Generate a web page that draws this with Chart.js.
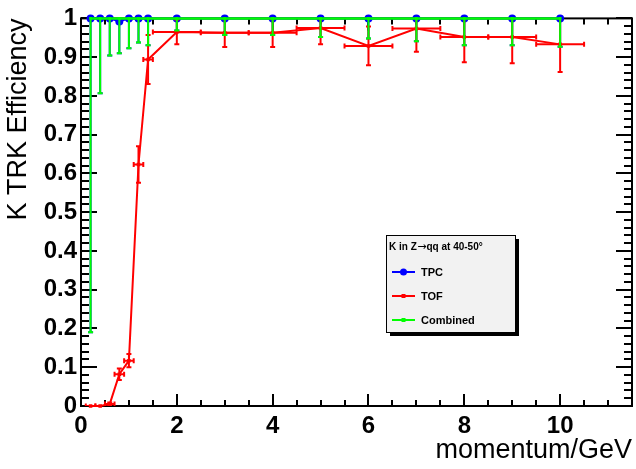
<!DOCTYPE html>
<html><head><meta charset="utf-8">
<script src="https://cdn.jsdelivr.net/npm/chart.js@4"></script>
<style>html,body{margin:0;padding:0;background:#fff;}#wrap{width:636px;height:469px;position:relative;}</style>
</head><body><div id="wrap"><canvas id="c" width="636" height="469"></canvas></div>
<script>
// ---- data ----
const momentum   = [0.2, 0.4, 0.6, 0.8, 1.0, 1.2, 1.4, 2, 3, 4, 5, 6, 7, 8, 9, 10];
const tpcEff     = [1, 1, 1, 0.992, 1, 1, 1, 1, 1, 1, 1, 1, 1, 1, 1, 1];
const tpcErrLow  = [0.81, 0.193, 0.096, 0.082, 0.077, 0.062, 0.069, 0.031, 0.043, 0.043, 0.048, 0.052, 0.059, 0.069, 0.069, 0.073];
const tofEff     = [0, 0, 0.005, 0.082, 0.117, 0.623, 0.894, 0.965, 0.963, 0.963, 0.975, 0.929, 0.974, 0.952, 0.952, 0.933];
const tofErrY    = [0, 0, 0.004, 0.015, 0.017, 0.047, 0.063, 0.032, 0.037, 0.037, 0.042, 0.05, 0.06, 0.065, 0.068, 0.071];
const tofErrX    = [0.1, 0.1, 0.1, 0.1, 0.1, 0.1, 0.1, 0.5, 0.5, 0.5, 0.5, 0.5, 0.5, 0.5, 0.5, 0.5];
const combEff    = [1, 1, 1, 1, 1, 1, 1, 1, 1, 1, 1, 1, 1, 1, 1, 1];
const combErrLow = [0.81, 0.193, 0.096, 0.09, 0.077, 0.062, 0.069, 0.031, 0.043, 0.043, 0.048, 0.052, 0.059, 0.069, 0.069, 0.073];
const xTickLabels = ['0', '2', '4', '6', '8', '10'];
const yTickLabels = ['0', '0.1', '0.2', '0.3', '0.4', '0.5', '0.6', '0.7', '0.8', '0.9', '1'];
const legendTitleParts = ['K in Z', '\u2192', 'qq at 40-50\u00B0'];

const BLUE = '#0000ff', RED = '#ff0000', GREEN = '#00ff00';
const FONT = 'Liberation Sans, Arial, Helvetica, sans-serif';

const errorSpecs = [
  { color: BLUE,  width: 2, low: tpcErrLow,  high: null, ex: null },
  { color: RED,   width: 2, low: tofErrY,    high: tofErrY, ex: tofErrX },
  { color: GREEN, width: 2, low: combErrLow, high: null, ex: null }
];
const yVals = [tpcEff, tofEff, combEff];

const errorBarPlugin = {
  id: 'errbars',
  beforeDatasetDraw(chart, args) {
    const spec = errorSpecs[args.index];
    if (!spec) return;
    const xs = chart.scales.x, ys = chart.scales.y, a = chart.chartArea;
    const ctx = chart.ctx;
    ctx.save();
    ctx.beginPath(); ctx.rect(a.left, a.top, a.right - a.left, a.bottom - a.top); ctx.clip();
    ctx.strokeStyle = spec.color; ctx.lineWidth = spec.width; ctx.lineCap = 'butt';
    const cap = 2.5;
    const yv = yVals[args.index];
    momentum.forEach((m, i) => {
      const px = xs.getPixelForValue(m), py = ys.getPixelForValue(yv[i]);
      ctx.beginPath();
      if (spec.low && spec.low[i] > 0) {
        const pl = ys.getPixelForValue(yv[i] - spec.low[i]);
        ctx.moveTo(px, py); ctx.lineTo(px, pl);
        ctx.moveTo(px - cap, pl); ctx.lineTo(px + cap, pl);
      }
      if (spec.high && spec.high[i] > 0) {
        const ph = ys.getPixelForValue(yv[i] + spec.high[i]);
        ctx.moveTo(px, py); ctx.lineTo(px, ph);
        ctx.moveTo(px - cap, ph); ctx.lineTo(px + cap, ph);
      }
      if (spec.ex && spec.ex[i] > 0) {
        const p1 = xs.getPixelForValue(m - spec.ex[i]), p2 = xs.getPixelForValue(m + spec.ex[i]);
        ctx.moveTo(p1, py); ctx.lineTo(p2, py);
        ctx.moveTo(p1, py - cap); ctx.lineTo(p1, py + cap);
        ctx.moveTo(p2, py - cap); ctx.lineTo(p2, py + cap);
      }
      ctx.stroke();
    });
    ctx.restore();
  }
};

const framePlugin = {
  id: 'rootframe',
  beforeDatasetsDraw(chart) {
    const xs = chart.scales.x, ys = chart.scales.y, a = chart.chartArea;
    const ctx = chart.ctx;
    ctx.save();
    ctx.strokeStyle = '#000'; ctx.lineWidth = 2;
    ctx.strokeRect(a.left, a.top, a.right - a.left, a.bottom - a.top);
    ctx.beginPath();
    for (let k = 0; k <= 23; k++) {
      const v = k * 0.5;
      const px = Math.round(xs.getPixelForValue(v));
      const len = (k % 4 === 0) ? 12 : 6;
      ctx.moveTo(px, a.bottom); ctx.lineTo(px, a.bottom - len);
      ctx.moveTo(px, a.top); ctx.lineTo(px, a.top + len);
    }
    for (let k = 0; k <= 50; k++) {
      const v = k * 0.02;
      const py = Math.round(ys.getPixelForValue(v));
      const len = (k % 5 === 0) ? 16 : 8;
      ctx.moveTo(a.left, py); ctx.lineTo(a.left + len, py);
      ctx.moveTo(a.right, py); ctx.lineTo(a.right - len, py);
    }
    ctx.stroke();
    ctx.restore();
  }
};

const legendPlugin = {
  id: 'rootlegend',
  afterDraw(chart) {
    const ctx = chart.ctx;
    const L = 386, T = 235, W = 129, H = 97;
    ctx.save();
    ctx.fillStyle = '#000';
    ctx.fillRect(L + 4, T + 4, W, H);
    ctx.fillStyle = '#f2f2f2';
    ctx.fillRect(L, T, W, H);
    ctx.strokeStyle = '#000'; ctx.lineWidth = 1;
    ctx.strokeRect(L + 0.5, T + 0.5, W, H);
    ctx.fillStyle = '#000';
    ctx.textBaseline = 'middle'; ctx.textAlign = 'left';
    let tx = L + 3;
    const fonts = ['bold 10px ' + FONT, '11px DejaVu Sans, sans-serif', 'bold 10px ' + FONT];
    legendTitleParts.forEach((p, i) => {
      ctx.font = fonts[i];
      ctx.fillText(p, tx, T + 12);
      tx += ctx.measureText(p).width + (i === 0 ? 0.5 : 0);
    });
    const ds = chart.data.datasets;
    const rows = [T + 37, T + 61, T + 85];
    ds.forEach((d, i) => {
      const y = rows[i];
      ctx.strokeStyle = d.borderColor; ctx.lineWidth = 2;
      ctx.beginPath(); ctx.moveTo(L + 6, y); ctx.lineTo(L + 29, y); ctx.stroke();
      ctx.fillStyle = d.borderColor;
      if (d.pointStyle === 'circle') {
        ctx.beginPath(); ctx.arc(L + 17.5, y, 3.5, 0, Math.PI * 2); ctx.fill();
      } else {
        ctx.fillRect(L + 15.5, y - 2, 4, 4);
      }
      ctx.fillStyle = '#000';
      ctx.font = 'bold 11px ' + FONT;
      ctx.fillText(d.label, L + 35, y + 0.5);
    });
    ctx.restore();
  }
};

const mk = (ys) => momentum.map((x, i) => ({ x: x, y: ys[i] }));

new Chart(document.getElementById('c'), {
  type: 'scatter',
  data: {
    datasets: [
      { label: 'TPC', data: mk(tpcEff), showLine: true, borderColor: BLUE, backgroundColor: BLUE,
        borderWidth: 2, pointStyle: 'circle', pointRadius: 4, pointBorderWidth: 0, order: 3, clip: 8, tension: 0 },
      { label: 'TOF', data: mk(tofEff), showLine: true, borderColor: RED, backgroundColor: RED,
        borderWidth: 2, pointStyle: 'rect', pointRadius: 2.5, pointBorderWidth: 0, order: 2, clip: 8, tension: 0 },
      { label: 'Combined', data: mk(combEff), showLine: true, borderColor: GREEN, backgroundColor: GREEN,
        borderWidth: 2.5, pointStyle: 'rect', pointRadius: 2, pointBorderWidth: 0, order: 1, clip: 8, tension: 0 }
    ]
  },
  options: {
    responsive: false, animation: false, devicePixelRatio: 1,
    layout: { padding: { top: 13, right: 4, left: 0, bottom: 0 } },
    plugins: { legend: { display: false }, tooltip: { enabled: false } },
    scales: {
      x: {
        type: 'linear', min: 0, max: 11.5,
        afterFit(s) { s.height = 63; },
        grid: { display: false, drawTicks: false }, border: { display: false },
        ticks: {
          stepSize: 2, includeBounds: false, autoSkip: false, maxRotation: 0, padding: 6,
          color: '#000', font: { family: FONT, weight: 'bold', size: 24 },
          callback: (v) => { const s = String(v); return xTickLabels.includes(s) ? s : ''; }
        },
        title: { display: true, text: 'momentum/GeV', align: 'end', color: '#000',
          font: { family: FONT, size: 27 }, padding: { top: 0, bottom: 2 } }
      },
      y: {
        type: 'linear', min: 0, max: 1,
        afterFit(s) { s.width = 81; },
        grid: { display: false, drawTicks: false }, border: { display: false },
        ticks: {
          stepSize: 0.1, autoSkip: false, padding: 4,
          color: '#000', font: { family: FONT, weight: 'bold', size: 24 },
          callback: (v) => { const s = String(Math.round(v * 10) / 10); return yTickLabels.includes(s) ? s : ''; }
        },
        title: { display: true, text: 'K TRK Efficiency', align: 'end', color: '#000',
          font: { family: FONT, size: 27 }, padding: { top: 2, bottom: 0 } }
      }
    }
  },
  plugins: [framePlugin, errorBarPlugin, legendPlugin]
});
</script></body></html>
